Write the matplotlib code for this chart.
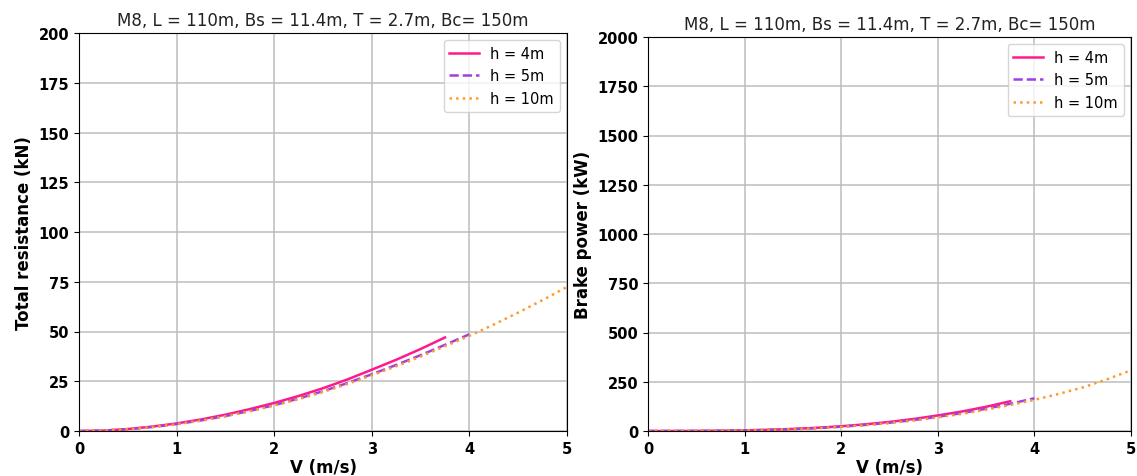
import matplotlib
matplotlib.use("Agg")
import matplotlib.pyplot as plt

# Speed samples (m/s) for each water depth
v_h4 = [0, 0.25, 0.5, 0.75, 1.0, 1.25, 1.5, 1.75, 2.0, 2.25, 2.5, 2.75, 3.0, 3.25, 3.5, 3.75]
v_h5 = [0, 0.25, 0.5, 0.75, 1.0, 1.25, 1.5, 1.75, 2.0, 2.25, 2.5, 2.75, 3.0, 3.25, 3.5, 3.75, 4.0]
v_h10 = [0, 0.25, 0.5, 0.75, 1.0, 1.25, 1.5, 1.75, 2.0, 2.25, 2.5, 2.75, 3.0, 3.25, 3.5, 3.75, 4.0,
         4.25, 4.5, 4.75, 5.0]

# Total resistance (kN)
r_h4 = [0, 0.2, 1.0, 2.2, 3.8, 5.8, 8.2, 11.0, 14.1, 17.6, 21.5, 25.9, 30.8, 35.8, 41.2, 47.0]
r_h5 = [0, 0.2, 0.9, 2.0, 3.5, 5.3, 7.5, 10.1, 13.0, 16.3, 20.0, 24.1, 28.5, 33.2, 38.1, 43.3, 48.6]
r_h10 = [0, 0.2, 0.9, 2.0, 3.4, 5.2, 7.4, 9.9, 12.8, 16.0, 19.6, 23.6, 28.0, 32.5, 37.4, 42.6, 47.8,
         53.5, 59.5, 65.8, 72.4]

# Brake power (kW)
p_h4 = [0, 0.1, 0.5, 1.4, 3.3, 6.2, 10.5, 16.4, 24.0, 34.0, 46.0, 61.0, 79.0, 99.0, 123.0, 151.0]
p_h5 = [0, 0.1, 0.4, 1.3, 3.0, 5.6, 9.5, 14.8, 21.8, 30.8, 42.0, 55.6, 72.0, 91.0, 113.0, 138.0, 166.0]
p_h10 = [0, 0.1, 0.4, 1.2, 2.8, 5.3, 9.0, 14.1, 20.8, 29.5, 40.2, 53.3, 68.9, 87.0, 108.0, 132.0, 158.0,
         188.0, 221.0, 262.0, 308.0]

labels = ["h = 4m", "h = 5m", "h = 10m"]
colors = ["#ff1a8c", "#a040e0", "#ff9a30"]
styles = ["-", "--", ":"]
title = "M8, L = 110m, Bs = 11.4m, T = 2.7m, Bc= 150m"

W, H = 1137, 477
fig = plt.figure(figsize=(W / 100, H / 100), dpi=100)
ax1 = fig.add_axes([79 / W, (H - 432) / H, (567 - 79) / W, (432 - 34) / H])
ax2 = fig.add_axes([648 / W, (H - 432) / H, (1131 - 648) / W, (432 - 38) / H])

panels = [
    (ax1, [r_h4, r_h5, r_h10], "Total resistance (kN)", 200, [0, 25, 50, 75, 100, 125, 150, 175, 200]),
    (ax2, [p_h4, p_h5, p_h10], "Brake power (kW)", 2000, [0, 250, 500, 750, 1000, 1250, 1500, 1750, 2000]),
]
speeds = [v_h4, v_h5, v_h10]

for ax, series, ylabel, ymax, yticks in panels:
    for v, y, lab, c, ls in zip(speeds, series, labels, colors, styles):
        ax.plot(v, y, color=c, linestyle=ls, linewidth=1.8, label=lab)
    ax.set_xlim(0, 5)
    ax.set_ylim(0, ymax)
    ax.set_xticks([0, 1, 2, 3, 4, 5])
    ax.set_yticks(yticks)
    ax.grid(True, color="#bdbdbd", linewidth=1.1)
    ax.set_axisbelow(True)
    ax.set_title(title, fontsize=12, pad=6, color="#222222")
    ax.set_xlabel("V (m/s)", fontsize=12, fontweight="bold", labelpad=2)
    ax.set_ylabel(ylabel, fontsize=12, fontweight="bold")
    for t in ax.get_xticklabels() + ax.get_yticklabels():
        t.set_fontweight("bold")
        t.set_fontsize(10.5)
    ax.legend(loc="upper right", fontsize=10.5)

fig.savefig("out.png", dpi=100)
